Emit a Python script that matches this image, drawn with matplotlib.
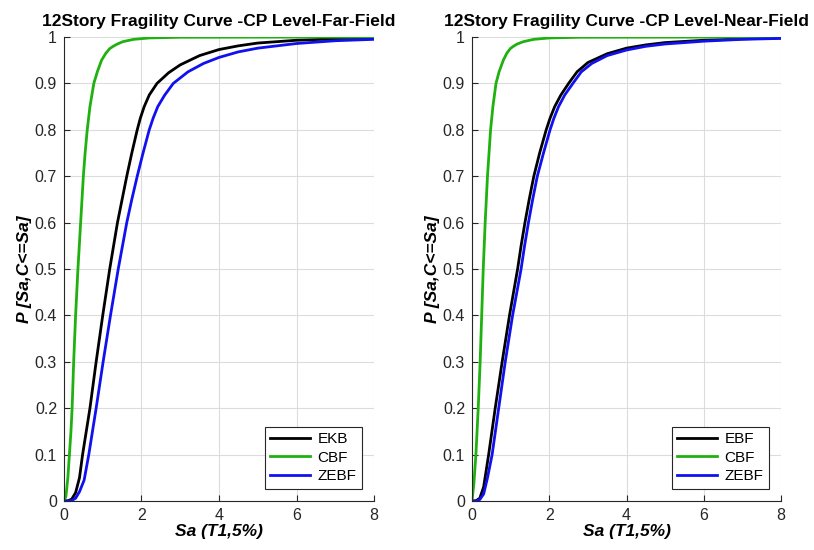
import matplotlib
matplotlib.use("Agg")
from matplotlib import pyplot as plt

plt.rcParams['font.family'] = ['Liberation Sans', 'DejaVu Sans']

# ---- Far-Field (left) ----
far_ekb_sa = [0, 0.1, 0.2, 0.3, 0.4, 0.48, 0.67, 0.83, 1.0, 1.18, 1.28, 1.38, 1.5, 1.62, 1.75, 1.89, 1.97, 2.07, 2.2,
              2.4, 2.7, 3.0, 3.5, 4.0, 4.5, 5.0, 6.0, 7.0, 8.0]
far_ekb_p = [0, 0.0005, 0.004, 0.018, 0.05, 0.1, 0.2, 0.3, 0.4, 0.5, 0.55, 0.6, 0.65, 0.7, 0.75, 0.8, 0.825, 0.85, 0.875,
             0.9, 0.923, 0.94, 0.96, 0.973, 0.981, 0.987, 0.993, 0.996, 0.998]

far_cbf_sa = [0, 0.05, 0.1, 0.14, 0.18, 0.21, 0.25, 0.30, 0.36, 0.43, 0.50, 0.545, 0.60, 0.67, 0.77, 0.86, 0.97,
              1.08, 1.18, 1.27, 1.38, 1.52, 1.8, 2.2, 3.0, 8.0]
far_cbf_p = [0, 0.01, 0.05, 0.1, 0.15, 0.2, 0.3, 0.4, 0.5, 0.6, 0.7, 0.75, 0.8, 0.85, 0.9, 0.925, 0.95,
             0.965, 0.975, 0.98, 0.985, 0.99, 0.995, 0.998, 0.9995, 1.0]

far_zebf_sa = [0, 0.1, 0.2, 0.3, 0.4, 0.52, 0.64, 0.83, 1.01, 1.2, 1.4, 1.51, 1.62, 1.75, 1.89, 2.04, 2.2, 2.3, 2.42,
               2.6, 2.82, 3.2, 3.6, 4.0, 4.5, 5.0, 6.0, 7.0, 8.0]
far_zebf_p = [0, 0, 0.001, 0.006, 0.02, 0.045, 0.1, 0.2, 0.3, 0.4, 0.5, 0.55, 0.6, 0.65, 0.7, 0.75, 0.8, 0.825, 0.85,
              0.875, 0.9, 0.925, 0.943, 0.956, 0.968, 0.976, 0.986, 0.992, 0.995]

# ---- Near-Field (right) ----
near_ebf_sa = [0, 0.1, 0.2, 0.3, 0.43, 0.60, 0.78, 0.97, 1.18, 1.27, 1.37, 1.48, 1.6, 1.75, 1.92, 2.02, 2.14, 2.3,
               2.5, 2.72, 3.0, 3.5, 4.0, 4.5, 5.0, 6.0, 7.0, 8.0]
near_ebf_p = [0, 0.0005, 0.006, 0.03, 0.1, 0.2, 0.3, 0.4, 0.5, 0.55, 0.6, 0.65, 0.7, 0.75, 0.8, 0.825, 0.85, 0.875,
              0.9, 0.925, 0.945, 0.964, 0.976, 0.983, 0.988, 0.993, 0.996, 0.998]

near_cbf_sa = [0, 0.05, 0.10, 0.16, 0.21, 0.25, 0.29, 0.34, 0.40, 0.44, 0.48, 0.54, 0.62, 0.70, 0.81, 0.90,
               0.99, 1.07, 1.17, 1.33, 1.6, 2.0, 2.8, 8.0]
near_cbf_p = [0, 0.04, 0.1, 0.2, 0.3, 0.4, 0.5, 0.6, 0.7, 0.75, 0.8, 0.85, 0.9, 0.925, 0.95, 0.965,
              0.975, 0.98, 0.985, 0.99, 0.995, 0.998, 0.9995, 1.0]

near_zebf_sa = [0, 0.1, 0.2, 0.3, 0.4, 0.52, 0.69, 0.86, 1.05, 1.27, 1.36, 1.46, 1.57, 1.69, 1.85, 2.02, 2.12, 2.24,
                2.4, 2.61, 2.83, 3.1, 3.5, 4.0, 4.5, 5.0, 6.0, 7.0, 8.0]
near_zebf_p = [0, 0, 0.003, 0.015, 0.05, 0.1, 0.2, 0.3, 0.4, 0.5, 0.55, 0.6, 0.65, 0.7, 0.75, 0.8, 0.825, 0.85,
               0.875, 0.9, 0.925, 0.943, 0.96, 0.972, 0.98, 0.985, 0.991, 0.995, 0.997]

x_ticks = [0, 2, 4, 6, 8]
y_ticks = [0, 0.1, 0.2, 0.3, 0.4, 0.5, 0.6, 0.7, 0.8, 0.9, 1]
y_tick_labels = ['0', '0.1', '0.2', '0.3', '0.4', '0.5', '0.6', '0.7', '0.8', '0.9', '1']

black = 'k'
green = '#1fb10f'
blue = '#1010f0'

panels = [
    ("12Story Fragility Curve -CP Level-Far-Field",
     [(far_ekb_sa, far_ekb_p, black, 'EKB'),
      (far_cbf_sa, far_cbf_p, green, 'CBF'),
      (far_zebf_sa, far_zebf_p, blue, 'ZEBF')],
     [0.0786, 0.0891, 0.3809, 0.8436]),
    ("12Story Fragility Curve -CP Level-Near-Field",
     [(near_ebf_sa, near_ebf_p, black, 'EBF'),
      (near_cbf_sa, near_cbf_p, green, 'CBF'),
      (near_zebf_sa, near_zebf_p, blue, 'ZEBF')],
     [0.5799, 0.0891, 0.3796, 0.8436]),
]

fig = plt.figure(figsize=(8.14, 5.5), dpi=100)

for title, curves, rect in panels:
    ax = fig.add_axes(rect)
    for sa, p, c, lab in curves:
        ax.plot(sa, p, color=c, lw=2.0, label=lab, solid_joinstyle='round')
    ax.set_xlim(0, 8)
    ax.set_ylim(0, 1)
    ax.set_xticks(x_ticks)
    ax.set_yticks(y_ticks)
    ax.set_yticklabels(y_tick_labels)
    ax.grid(True, color='#dcdcdc', lw=0.8)
    ax.set_axisbelow(True)
    for s in ['top', 'right']:
        ax.spines[s].set_visible(False)
    for s in ['left', 'bottom']:
        ax.spines[s].set_color('#262626')
        ax.spines[s].set_linewidth(0.8)
    ax.tick_params(direction='in', length=4, colors='#262626', labelsize=11.5, pad=5)
    ax.set_title(title, fontsize=12.5, fontweight='bold', pad=8)
    ax.set_xlabel('Sa (T1,5%)', fontsize=12.5, fontweight='bold', style='italic', labelpad=1)
    ax.set_ylabel('P [Sa,C<=Sa]', fontsize=12.5, fontweight='bold', style='italic', labelpad=2)
    leg = ax.legend(loc='lower right', fontsize=11, fancybox=False, framealpha=1,
                    edgecolor='#262626', borderaxespad=0.8, handlelength=2.6,
                    borderpad=0.35, labelspacing=0.3, handletextpad=0.5)
    leg.get_frame().set_linewidth(0.8)

fig.savefig('out.png', dpi=100)
